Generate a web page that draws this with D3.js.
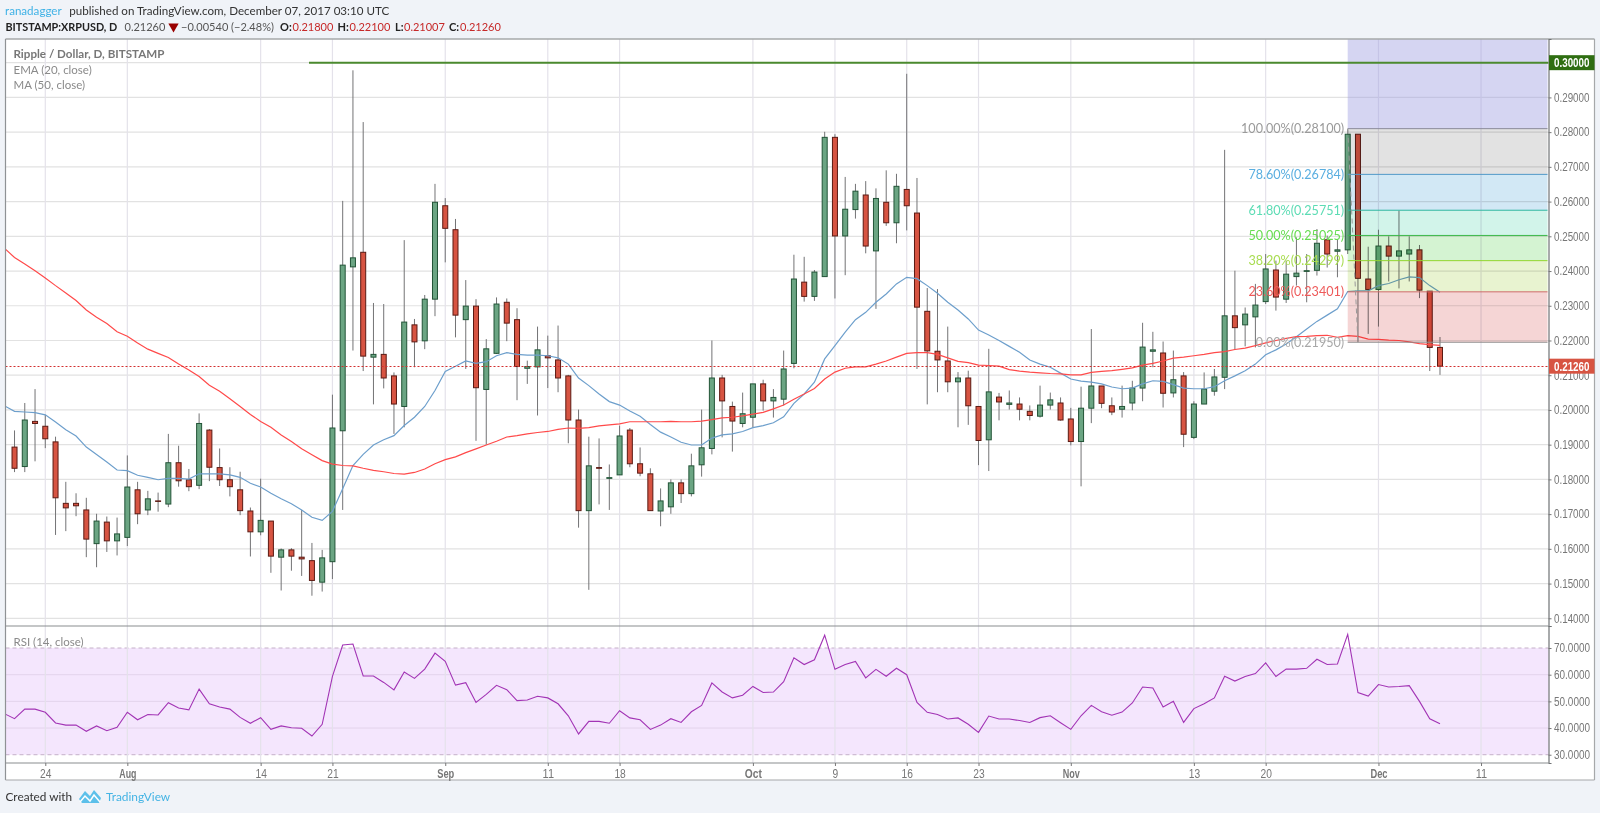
<!DOCTYPE html>
<html>
<head>
<meta charset="utf-8">
<script src="https://cdn.jsdelivr.net/npm/d3@7"></script>
<style>
  html, body { margin: 0; padding: 0; background: #f0f3f8; overflow: hidden; }
  text { font-family: Lato, "Open Sans", sans-serif; }
</style>
</head>
<body>
<div id="chart"></div>
<script>
// daily candles, first one is 21 Jul 2017
var opens = [.1893,.1837,.1967,.1953,.1908,.1731,.1731,.1712,.1615,.1677,
  .1623,.1633,.1770,.1712,.1738,.1729,.1848,.1799,.1783,.1942,
  .1834,.1799,.1770,.1709,.1649,.1680,.1576,.1597,.1576,.1566,
  .1504,.1563,.1940,.2412,.2454,.2152,.2160,.2098,.2010,.2245,
  .2199,.2319,.2588,.2519,.2260,.2299,.2059,.2163,.2310,.2260,
  .2120,.2124,.2156,.2144,.2098,.1971,.1710,.1834,.1803,.1813,
  .1942,.1845,.1816,.1709,.1721,.1790,.1759,.1842,.1889,.2092,
  .2010,.1961,.1979,.2075,.2026,.2031,.2134,.2368,.2327,.2384,
  .2785,.2501,.2577,.2619,.2458,.2598,.2539,.2635,.2567,.2284,
  .2169,.2141,.2081,.2092,.2010,.1914,.2037,.2016,.2017,.1996,
  .1982,.2014,.2020,.1974,.1909,.2005,.2069,.2012,.2002,.2020,
  .2063,.2169,.2164,.2049,.2098,.1921,.2017,.2054,.2094,.2271,
  .2245,.2268,.2312,.2403,.2319,.2384,.2399,.2402,.2490,.2457,
  .2461,.2794,.2377,.2347,.2472,.2443,.2449,.2461,.2342,.2180];
var closes = [.1832,.1971,.1961,.1917,.1747,.1718,.1724,.1628,.1680,.1623,
  .1643,.1778,.1701,.1744,.1737,.1848,.1796,.1779,.1961,.1835,
  .1799,.1779,.1710,.1649,.1682,.1579,.1597,.1579,.1571,.1509,
  .1574,.1948,.2417,.2438,.2155,.2160,.2092,.2017,.2253,.2196,
  .2319,.2598,.2523,.2273,.2299,.2064,.2176,.2305,.2250,.2125,
  .2125,.2173,.2150,.2092,.1971,.1710,.1839,.1832,.1805,.1925,
  .1845,.1818,.1710,.1738,.1790,.1759,.1839,.1891,.2092,.2026,
  .1968,.1989,.2075,.2026,.2036,.2118,.2377,.2327,.2397,.2785,
  .2501,.2578,.2630,.2472,.2609,.2539,.2644,.2588,.2296,.2170,
  .2144,.2081,.2092,.2012,.1912,.2052,.2023,.2020,.2002,.1984,
  .2014,.2029,.1971,.1909,.2005,.2069,.2019,.1994,.2010,.2063,
  .2181,.2173,.2048,.2087,.1930,.2017,.2060,.2095,.2271,.2237,
  .2276,.2302,.2406,.2325,.2391,.2394,.2401,.2480,.2449,.2461,
  .2794,.2379,.2347,.2472,.2443,.2458,.2461,.2345,.2180,.2126];
var highs = [.1941,.2020,.2060,.1986,.1923,.1793,.1760,.1747,.1701,.1693,
  .1690,.1869,.1793,.1767,.1762,.1931,.1897,.1830,.1990,.1945,
  .1889,.1835,.1822,.1719,.1802,.1680,.1601,.1602,.1712,.1617,
  .1597,.2044,.2602,.2978,.2829,.2308,.2305,.2108,.2489,.2262,
  .2331,.2651,.2610,.2550,.2374,.2319,.2204,.2324,.2321,.2293,
  .2142,.2240,.2214,.2243,.2101,.2001,.1923,.1918,.1843,.1955,
  .1948,.1892,.1832,.1774,.1800,.1800,.1874,.2001,.2200,.2101,
  .2024,.2050,.2075,.2087,.2060,.2171,.2447,.2441,.2403,.2801,
  .2794,.2671,.2651,.2659,.2638,.2690,.2680,.2968,.2668,.2351,
  .2348,.2240,.2109,.2113,.2010,.2176,.2049,.2056,.2036,.2013,
  .2070,.2050,.2036,.2006,.2067,.2233,.2069,.2036,.2070,.2084,
  .2251,.2225,.2197,.2171,.2109,.2025,.2108,.2118,.2749,.2401,
  .2295,.2363,.2449,.2430,.2430,.2497,.2449,.2521,.2502,.2492,
  .2808,.2794,.2470,.2519,.2500,.2574,.2500,.2475,.2342,.2210];
var lows = [.1821,.1821,.1852,.1890,.1640,.1651,.1694,.1576,.1547,.1591,
  .1581,.1608,.1671,.1697,.1707,.1720,.1779,.1766,.1772,.1795,
  .1781,.1751,.1697,.1578,.1639,.1531,.1480,.1537,.1522,.1465,
  .1477,.1513,.1712,.2171,.2112,.2016,.2062,.1931,.1950,.2123,
  .2175,.2270,.2425,.2209,.2118,.1911,.1900,.2161,.2198,.2028,
  .2075,.1984,.2063,.2051,.1904,.1661,.1482,.1728,.1712,.1813,
  .1835,.1809,.1709,.1665,.1701,.1732,.1751,.1808,.1872,.1921,
  .1880,.1950,.1950,.1998,.1978,.2013,.2120,.2312,.2314,.2384,
  .2321,.2388,.2551,.2451,.2291,.2530,.2480,.2517,.2118,.2016,
  .2051,.2051,.1950,.1957,.1841,.1824,.1970,.2001,.1970,.1970,
  .1978,.2001,.1969,.1898,.1780,.1962,.2005,.1985,.1978,.1999,
  .2025,.2123,.2007,.2036,.1893,.1916,.2017,.2041,.2060,.2173,
  .2183,.2180,.2305,.2286,.2308,.2358,.2310,.2387,.2410,.2382,
  .2449,.2195,.2219,.2240,.2370,.2350,.2370,.2322,.2112,.2101];
// these three start one day before the first candle, the pane clips that point
var ema20 = [.2012,.1996,.1994,.1992,.1986,.1965,.1943,.1925,.1893,.1872,.1850,
  .1827,.1825,.1812,.1806,.1799,.1803,.1803,.1801,.1816,.1816,
  .1816,.1813,.1806,.1789,.1778,.1760,.1744,.1730,.1712,.1691,
  .1682,.1708,.1773,.1840,.1872,.1899,.1914,.1926,.1955,.1979,
  .2010,.2056,.2111,.2126,.2141,.2134,.2139,.2156,.2165,.2160,
  .2158,.2158,.2156,.2150,.2132,.2092,.2070,.2046,.2024,.2014,
  .1997,.1982,.1958,.1936,.1922,.1907,.1899,.1899,.1919,.1928,
  .1931,.1938,.1949,.1955,.1963,.1980,.2019,.2046,.2080,.2147,
  .2185,.2224,.2260,.2281,.2310,.2334,.2363,.2382,.2378,.2358,
  .2336,.2310,.2288,.2262,.2230,.2216,.2200,.2183,.2166,.2144,
  .2132,.2123,.2106,.2089,.2083,.2080,.2075,.2066,.2061,.2063,
  .2075,.2084,.2082,.2073,.2063,.2061,.2061,.2067,.2084,.2098,
  .2113,.2132,.2159,.2173,.2190,.2211,.2233,.2255,.2273,.2291,
  .2341,.2343,.2343,.2358,.2364,.2375,.2383,.2381,.2358,.2339];
var ma50 = [.2466,.2439,.2420,.2401,.2380,.2358,.2337,.2315,.2288,.2267,.2249,
  .2225,.2212,.2193,.2175,.2163,.2151,.2132,.2115,.2096,.2071,
  .2054,.2032,.2010,.1987,.1967,.1950,.1928,.1909,.1888,.1871,
  .1854,.1844,.1840,.1839,.1832,.1826,.1822,.1817,.1815,.1820,
  .1830,.1845,.1857,.1865,.1877,.1888,.1899,.1910,.1922,.1926,
  .1931,.1935,.1938,.1944,.1948,.1947,.1949,.1954,.1957,.1960,
  .1966,.1966,.1966,.1966,.1967,.1966,.1966,.1968,.1972,.1977,
  .1979,.1983,.1988,.1993,.2003,.2014,.2031,.2046,.2062,.2089,
  .2109,.2120,.2124,.2124,.2132,.2141,.2152,.2163,.2165,.2165,
  .2160,.2150,.2140,.2136,.2129,.2128,.2126,.2116,.2112,.2109,
  .2107,.2105,.2104,.2101,.2101,.2108,.2111,.2113,.2117,.2121,
  .2129,.2134,.2141,.2149,.2152,.2156,.2160,.2165,.2168,.2174,
  .2178,.2185,.2193,.2200,.2206,.2211,.2212,.2214,.2215,.2209,
  .2214,.2212,.2204,.2203,.2201,.2200,.2196,.2191,.2188,.2186];
var rsi14 = [45.4,43.5,47.1,47.1,45.9,41.9,41.1,41.1,38.8,40.8,39.0,
  40.3,45.9,43.1,45.1,44.9,49.5,47.5,46.8,54.6,49.1,
  47.9,47.1,44.0,41.8,43.9,39.5,40.8,40.1,39.9,37.0,
  41.4,59.4,71.1,71.5,59.5,59.5,57.1,54.3,61.0,58.6,
  62.1,68.1,65.0,56.1,57.0,49.6,52.6,56.0,54.4,50.3,
  50.5,51.9,51.3,49.1,44.6,37.8,42.5,42.5,41.8,46.5,
  43.8,43.1,39.5,41.1,43.5,42.1,46.1,48.5,56.9,53.5,
  51.3,52.3,55.6,53.3,53.5,57.4,66.3,63.8,65.6,74.8,
  62.0,63.8,65.0,58.8,62.0,59.4,62.4,60.0,49.6,45.9,
  45.1,43.4,43.8,41.4,38.4,44.5,43.4,43.4,42.8,42.1,
  43.9,44.6,42.0,39.5,44.6,48.5,46.1,44.8,46.0,49.4,
  55.4,55.0,47.9,50.0,42.1,47.3,49.1,51.3,59.4,57.6,
  59.3,60.4,64.4,59.3,62.1,62.1,62.4,65.8,63.8,64.0,
  75.1,53.3,52.0,56.3,55.4,55.6,55.9,50.0,43.5,41.6];

var priceTicks = [.14,.15,.16,.17,.18,.19,.20,.21,.22,.23,.24,.25,.26,.27,.28,.29];
var rsiTicks = [30,40,50,60,70];
var dayTicks = [3,11,24,31,42,52,59,72,80,87,94,103,115,122,133,143];
var dayLabels = ["24","Aug","14","21","Sep","11","18","Oct","9","16","23","Nov","13","20","Dec","11"];
var monthLabels = ["Aug","Sep","Oct","Nov","Dec"];

var fibRatios = ["100.00%","78.60%","61.80%","50.00%","38.20%","23.60%","0.00%"];
var fibPrices = [.281,.26784,.25751,.25025,.24299,.23401,.2195];
var fibLines = ["#8a8a9a","#4f98c8","#2fb8a0","#3cb84a","#92d62e","#cf6a6a","#8c8c8c"];
var fibText = ["#9a9a9a","#5aaee0","#5cdcb4","#66dc50","#a8dc50","#ee5a5a","#a8a8a8"];
var fibFill = ["#e2e2e2","#d2e8f5","#d2f4ea","#d4f3d2","#e8f3d0","#f5d5d5"];

var lastPrice = .2126;
var targetPrice = .30;

var width = 1600, height = 813;
var paneLeft = 5.5, paneRight = 1548.5, priceTop = 39, priceBottom = 626, rsiBottom = 763, frameRight = 1594.5, frameBottom = 780;
var axisFont = '"Liberation Sans", sans-serif';

var svg = d3.select("#chart").append("svg")
    .attr("width", width)
    .attr("height", height)
    .style("display", "block");

var x = d3.scaleLinear().domain([-0.88, 149.58]).range([paneLeft, paneRight]);
var y = d3.scaleLinear().domain([.13778, .30682]).range([priceBottom, priceTop]);
var yRsi = d3.scaleLinear().domain([26.9, 78.25]).range([rsiBottom, priceBottom]);

svg.append("rect").attr("x", paneLeft).attr("y", priceTop)
    .attr("width", frameRight - paneLeft).attr("height", frameBottom - priceTop)
    .attr("fill", "#fff");

var defs = svg.append("defs");
defs.append("clipPath").attr("id", "priceClip").append("rect")
    .attr("x", paneLeft).attr("y", priceTop).attr("width", paneRight - paneLeft).attr("height", priceBottom - priceTop);
defs.append("clipPath").attr("id", "rsiClip").append("rect")
    .attr("x", paneLeft).attr("y", priceBottom).attr("width", paneRight - paneLeft).attr("height", rsiBottom - priceBottom);

// grid first
svg.append("g").selectAll("line").data(priceTicks.concat([.30])).enter().append("line")
    .attr("x1", paneLeft).attr("x2", paneRight)
    .attr("y1", function (d) { return y(d); }).attr("y2", function (d) { return y(d); })
    .attr("stroke", "#e2e2e2").attr("stroke-width", 1.2);

// rsi band
svg.append("rect").attr("x", paneLeft).attr("width", paneRight - paneLeft)
    .attr("y", yRsi(70)).attr("height", yRsi(30) - yRsi(70))
    .attr("fill", "#f4e6fd");
svg.append("g").selectAll("line").data([40, 50, 60]).enter().append("line")
    .attr("x1", paneLeft).attr("x2", paneRight)
    .attr("y1", function (d) { return yRsi(d); }).attr("y2", function (d) { return yRsi(d); })
    .attr("stroke", "#e3d3ec").attr("stroke-width", 1);
svg.append("g").selectAll("line").data([30, 70]).enter().append("line")
    .attr("x1", paneLeft).attr("x2", paneRight)
    .attr("y1", function (d) { return yRsi(d); }).attr("y2", function (d) { return yRsi(d); })
    .attr("stroke", "#c4b0c8").attr("stroke-width", 1).attr("stroke-dasharray", "4,3");

svg.append("g").selectAll("line").data(dayTicks).enter().append("line")
    .attr("x1", function (d) { return x(d); }).attr("x2", function (d) { return x(d); })
    .attr("y1", priceTop).attr("y2", rsiBottom)
    .attr("stroke", "#e4e2ea").attr("stroke-width", 1.2);

// candles
var candles = svg.append("g").attr("clip-path", "url(#priceClip)")
    .selectAll("g").data(opens).enter().append("g");

candles.append("line")
    .attr("x1", function (d, i) { return x(i); })
    .attr("x2", function (d, i) { return x(i); })
    .attr("y1", function (d, i) { return y(highs[i]); })
    .attr("y2", function (d, i) { return y(lows[i]); })
    .attr("stroke", "#737375").attr("stroke-width", 1);

candles.append("rect")
    .attr("x", function (d, i) { return x(i) - 2.5; })
    .attr("width", 5)
    .attr("y", function (d, i) { return y(Math.max(d, closes[i])); })
    .attr("height", function (d, i) { return Math.max(Math.abs(y(d) - y(closes[i])), 0.5); })
    .attr("fill", function (d, i) { return closes[i] >= d ? "#6ba583" : "#d75442"; })
    .attr("stroke", function (d, i) { return closes[i] >= d ? "#225437" : "#5b1a13"; })
    .attr("stroke-width", 1);

// moving averages
var priceLine = d3.line()
    .x(function (d, i) { return x(i - 1); })
    .y(function (d) { return y(d); });

svg.append("path").datum(ema20).attr("clip-path", "url(#priceClip)")
    .attr("d", priceLine).attr("fill", "none")
    .attr("stroke", "#6d9fcc").attr("stroke-width", 1.2);
svg.append("path").datum(ma50).attr("clip-path", "url(#priceClip)")
    .attr("d", priceLine).attr("fill", "none")
    .attr("stroke", "#ff4a4a").attr("stroke-width", 1.2);

// rsi line
svg.append("path").datum(rsi14).attr("clip-path", "url(#rsiClip)")
    .attr("d", d3.line().x(function (d, i) { return x(i - 1); }).y(function (d) { return yRsi(d); }))
    .attr("fill", "none").attr("stroke", "#a234b5").attr("stroke-width", 1.1);

// fib block sits over the candles
var fibLeft = x(130), fibRight = 1547.5;
svg.append("rect").attr("x", fibLeft).attr("width", fibRight - fibLeft)
    .attr("y", priceTop).attr("height", y(fibPrices[0]) - priceTop)
    .attr("fill", "#9a9ae0").attr("opacity", 0.42);

svg.append("g").selectAll("rect").data(fibFill).enter().append("rect")
    .attr("x", fibLeft).attr("width", fibRight - fibLeft)
    .attr("y", function (d, i) { return y(fibPrices[i]); })
    .attr("height", function (d, i) { return y(fibPrices[i + 1]) - y(fibPrices[i]); })
    .attr("fill", function (d) { return d; })
    .style("mix-blend-mode", "multiply");

svg.append("g").selectAll("line").data(fibPrices).enter().append("line")
    .attr("x1", fibLeft).attr("x2", fibRight)
    .attr("y1", function (d) { return y(d); }).attr("y2", function (d) { return y(d); })
    .attr("stroke", function (d, i) { return fibLines[i]; }).attr("stroke-width", 1);

svg.append("line")
    .attr("x1", x(130)).attr("x2", x(131))
    .attr("y1", y(fibPrices[0])).attr("y2", y(fibPrices[6]))
    .attr("stroke", "#9a9a9a").attr("stroke-width", 1).attr("stroke-dasharray", "5,4");

svg.append("g").selectAll("text").data(fibPrices).enter().append("text")
    .attr("x", fibLeft - 3.5)
    .attr("y", function (d) { return y(d) + 4.5; })
    .attr("text-anchor", "end")
    .attr("font-size", 12.6)
    .attr("fill", function (d, i) { return fibText[i]; })
    .text(function (d, i) { return fibRatios[i] + "(" + d.toFixed(5) + ")"; });

// horizontal 0.30 line and last price
svg.append("line").attr("x1", 309).attr("x2", paneRight)
    .attr("y1", y(targetPrice)).attr("y2", y(targetPrice))
    .attr("stroke", "#4b8a2f").attr("stroke-width", 2);
svg.append("line").attr("x1", paneLeft).attr("x2", paneRight)
    .attr("y1", Math.round(y(lastPrice)) + 0.5).attr("y2", Math.round(y(lastPrice)) + 0.5)
    .attr("stroke", "#d32f2f").attr("stroke-width", 1).attr("stroke-dasharray", "2,2");

// frame
var frame = "#8a8d90";
svg.append("line").attr("x1", paneLeft).attr("x2", frameRight).attr("y1", priceTop).attr("y2", priceTop).attr("stroke", "#a6a8aa").attr("stroke-width", 1.5);
svg.append("line").attr("x1", paneLeft).attr("x2", paneLeft).attr("y1", priceTop).attr("y2", frameBottom).attr("stroke", "#8f9295").attr("stroke-width", 1.2);
svg.append("line").attr("x1", paneLeft).attr("x2", paneRight).attr("y1", priceBottom).attr("y2", priceBottom).attr("stroke", frame).attr("stroke-width", 1.2);
svg.append("line").attr("x1", paneLeft).attr("x2", paneRight).attr("y1", rsiBottom).attr("y2", rsiBottom).attr("stroke", frame).attr("stroke-width", 1.2);
svg.append("line").attr("x1", paneLeft).attr("x2", frameRight).attr("y1", frameBottom).attr("y2", frameBottom).attr("stroke", "#a6a8aa").attr("stroke-width", 1.2);
svg.append("line").attr("x1", frameRight).attr("x2", frameRight).attr("y1", priceTop).attr("y2", frameBottom).attr("stroke", "#a6a8aa").attr("stroke-width", 1.2);

// axes
var fmtPrice = function (d) { return d.toFixed(5); };
var priceAxis = svg.append("g").attr("transform", "translate(" + paneRight + ",0)")
    .call(d3.axisRight(y).tickValues(priceTicks).tickFormat(fmtPrice).tickSize(3).tickPadding(2.5));
var rsiAxis = svg.append("g").attr("transform", "translate(" + paneRight + ",0)")
    .call(d3.axisRight(yRsi).tickValues(rsiTicks).tickFormat(function (d) { return d.toFixed(4); }).tickSize(3).tickPadding(2.5));
var dayAxis = svg.append("g").attr("transform", "translate(0," + rsiBottom + ")")
    .call(d3.axisBottom(x).tickValues(dayTicks).tickFormat(function (d, i) { return dayLabels[i]; }).tickSize(3).tickPadding(3));

// the axis font in the picture is narrow, squeeze it
[priceAxis, rsiAxis, dayAxis].forEach(function (a) {
    a.select(".domain").attr("stroke", "#6f7275").attr("stroke-width", 1.2);
    a.selectAll(".tick line").attr("stroke", "#777");
    a.selectAll("text").attr("fill", "#777").attr("font-size", 12).style("font-family", axisFont);
});
priceAxis.selectAll("text").attr("textLength", 35.5).attr("lengthAdjust", "spacingAndGlyphs");
rsiAxis.selectAll("text").attr("textLength", 36).attr("lengthAdjust", "spacingAndGlyphs");
dayAxis.selectAll("text")
    .attr("font-weight", function (d, i) { return monthLabels.indexOf(dayLabels[i]) >= 0 ? "bold" : "normal"; })
    .attr("textLength", function (d, i) { return dayLabels[i].length * 5.7; })
    .attr("lengthAdjust", "spacingAndGlyphs");
dayAxis.select(".domain").remove();

// price tags on the axis
function priceTag(value, color) {
    svg.append("rect").attr("x", paneRight + 0.5).attr("y", y(value) - 7.5)
        .attr("width", frameRight - paneRight - 0.5).attr("height", 15).attr("fill", color);
    svg.append("text").attr("x", 1554).attr("y", y(value) + 4.5)
        .attr("font-size", 12).attr("font-weight", "bold").attr("fill", "#fff")
        .attr("textLength", 35.5).attr("lengthAdjust", "spacingAndGlyphs")
        .style("font-family", axisFont)
        .text(value.toFixed(5));
}
priceTag(targetPrice, "#2f6e12");
priceTag(lastPrice, "#d75442");

// header
function label(xp, yp, str, size, color, weight) {
    return svg.append("text").attr("x", xp).attr("y", yp).attr("font-size", size)
        .attr("fill", color).attr("font-weight", weight || "normal").text(str);
}
label(5, 14.5, "ranadagger", 11.6, "#3fb2e6");
label(69.3, 14.5, "published on TradingView.com, December 07, 2017 03:10 UTC", 11.6, "#333");
label(5.5, 30.5, "BITSTAMP:XRPUSD, D", 10.8, "#222", "bold");
label(124.5, 30.5, "0.21260", 11, "#555");
svg.append("path").attr("d", d3.symbol().type(d3.symbolTriangle).size(46))
    .attr("transform", "translate(173.5,26.5) rotate(180)").attr("fill", "#990000");
label(181, 30.5, "\u22120.00540 (\u22122.48%)", 11, "#555");
label(280, 30.5, "O:", 11, "#222", "bold");
label(292.5, 30.5, "0.21800", 11, "#c62828");
label(337.5, 30.5, "H:", 11, "#222", "bold");
label(349.5, 30.5, "0.22100", 11, "#c62828");
label(395, 30.5, "L:", 11, "#222", "bold");
label(404, 30.5, "0.21007", 11, "#c62828");
label(449, 30.5, "C:", 11, "#222", "bold");
label(460, 30.5, "0.21260", 11, "#c62828");

// legends
label(13.5, 58, "Ripple / Dollar, D, BITSTAMP", 11.6, "#777", "bold");
label(13.5, 74, "EMA (20, close)", 11.5, "#8a8a8a");
label(13.5, 89, "MA (50, close)", 11.5, "#8a8a8a");
label(13.5, 646, "RSI (14, close)", 11.5, "#8a8a8a");

// footer
label(5.5, 801, "Created with", 11.8, "#333");
svg.append("path").attr("d", "M79 799 L85 791 L90 796 L94 790 L101 798 L99 803 L82 803 Z")
    .attr("fill", "#5cc0ea");
svg.append("path").attr("d", "M80 802 L85 796 L90 801 L94 795 L100 802")
    .attr("fill", "none").attr("stroke", "#fff").attr("stroke-width", 1.5);
label(106, 801, "TradingView", 11.9, "#45b4e4");
</script>
</body>
</html>
